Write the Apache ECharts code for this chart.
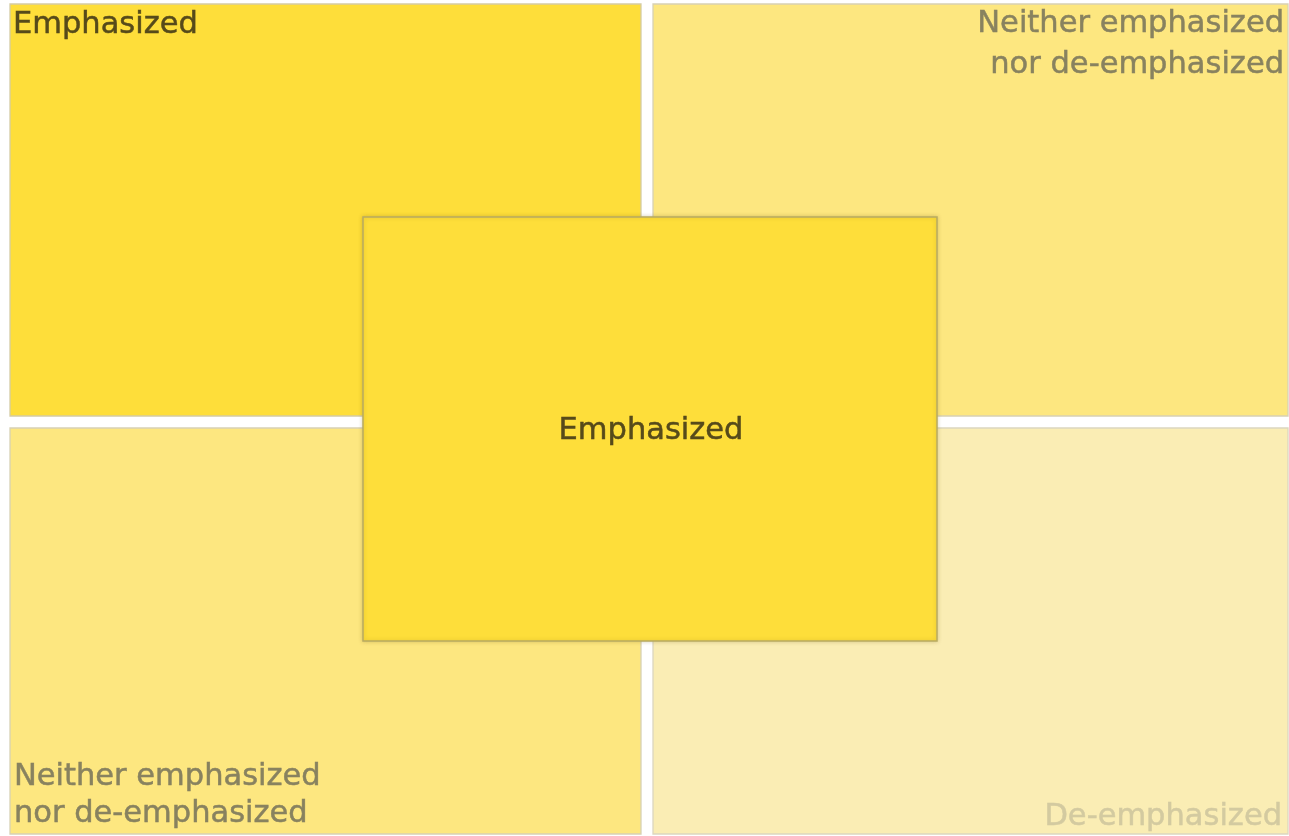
<!DOCTYPE html>
<html>
<head>
<meta charset="utf-8">
<title>Emphasis levels</title>
<script src="https://cdn.jsdelivr.net/npm/echarts@6/dist/echarts.min.js"></script>
<style>
    html, body { margin: 0; padding: 0; background: #fff; }
    #main { width: 1289px; height: 836px; }
</style>
</head>
<body>
<div id="main"></div>
<script>
    // tile extents [x0, y0, x1, y1] in picture units; the last tile is drawn on top
    const tiles = [
        [10, 4, 641, 416],
        [653, 4, 1288, 416],
        [10, 428, 641, 834],
        [653, 428, 1288, 834],
        [363, 217, 937, 641]
    ];
    const levels = ['emph', 'neither', 'neither', 'de', 'emph'];
    const labels = [
        'Emphasized',
        'Neither emphasized\nnor de-emphasized',
        'Neither emphasized\nnor de-emphasized',
        'De-emphasized',
        'Emphasized'
    ];
    const corners = ['tl', 'tr', 'bl', 'br', 'c'];

    const fill = {emph: '#fede3a', neither: '#fde780', de: '#faedb4'};
    const ink = {emph: '#564a1a', neither: '#88825f', de: '#d3caa0'};
    const edge = {emph: '#d5cca4', neither: '#d8d1b4', de: '#dcd6bf'};

    function renderItem(params, api) {
        const i = params.dataIndex;
        const p0 = api.coord([api.value(0), api.value(1)]);
        const p1 = api.coord([api.value(2), api.value(3)]);
        const lv = levels[i];
        const c = corners[i];
        let tx, ty, align, va, lh = 38;
        if (c === 'tl') { tx = p0[0] + 3; ty = p0[1] + 2; align = 'left'; va = 'top'; }
        if (c === 'tr') { tx = p1[0] - 4; ty = p0[1]; align = 'right'; va = 'top'; lh = 41; }
        if (c === 'bl') { tx = p0[0] + 4; ty = p1[1] - 1; align = 'left'; va = 'bottom'; lh = 37; }
        if (c === 'br') { tx = p1[0] - 6; ty = p1[1] + 2; align = 'right'; va = 'bottom'; }
        if (c === 'c') { tx = (p0[0] + p1[0]) / 2 + 1; ty = (p0[1] + p1[1]) / 2 + 2; align = 'center'; va = 'middle'; }
        const isCenter = c === 'c';
        return {
            type: 'group',
            children: [
                {
                    type: 'rect',
                    shape: {x: p0[0], y: p0[1], width: p1[0] - p0[0], height: p1[1] - p0[1]},
                    style: {
                        fill: fill[lv],
                        stroke: isCenter ? '#b8aa62' : edge[lv],
                        lineWidth: isCenter ? 1.5 : 1.3,
                        shadowBlur: isCenter ? 4 : 0,
                        shadowColor: 'rgba(120,100,20,0.25)'
                    }
                },
                {
                    type: 'text',
                    style: {
                        text: labels[i],
                        x: tx,
                        y: ty,
                        align: align,
                        verticalAlign: va,
                        fontFamily: '"DejaVu Sans", sans-serif',
                        fontSize: 30.5,
                        lineHeight: lh,
                        fill: ink[lv],
                        stroke: ink[lv],
                        lineWidth: 0.5
                    }
                }
            ]
        };
    }

    const chart = echarts.init(document.getElementById('main'));
    chart.setOption({
        animation: false,
        grid: {left: 0, right: 0, top: 0, bottom: 0},
        xAxis: {type: 'value', min: 0, max: 1289, show: false},
        yAxis: {type: 'value', min: 0, max: 836, inverse: true, show: false},
        series: [{
            type: 'custom',
            renderItem: renderItem,
            encode: {x: [0, 2], y: [1, 3]},
            data: tiles,
            silent: true
        }]
    });
</script>
</body>
</html>
